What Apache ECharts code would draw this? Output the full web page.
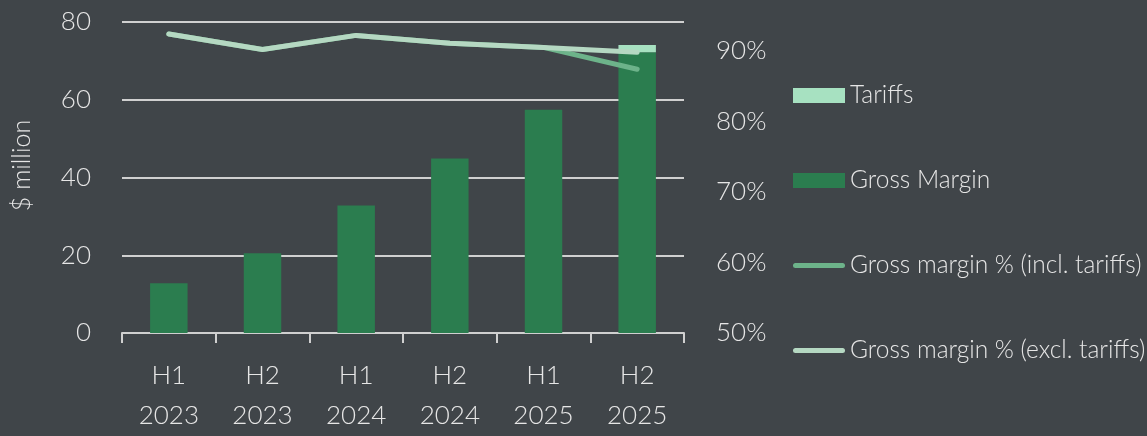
<!DOCTYPE html>
<html>
<head>
<meta charset="utf-8">
<script src="https://cdn.jsdelivr.net/npm/echarts@6/dist/echarts.min.js"></script>
<style>
html,body{margin:0;padding:0;background:#404549;}
#c{width:1147px;height:436px;}
</style>
</head>
<body>
<div id="c"></div>
<script>
const categories = ['H1\n2023','H2\n2023','H1\n2024','H2\n2024','H1\n2025','H2\n2025'];
const grossMargin = [12.8, 20.5, 32.8, 44.9, 57.4, 72.2];
const tariffs = [0, 0, 0, 0, 0, 1.9];
const gmInclTariffs = [0.924, 0.902, 0.922, 0.911, 0.905, 0.874];
const gmExclTariffs = [0.924, 0.902, 0.922, 0.911, 0.905, 0.898];
const leftTicks = [0, 20, 40, 60, 80];
const rightTicks = ['50%','60%','70%','80%','90%'];

const TXT = '#e6e6e6';
const FONT = 'Lato, "Open Sans", sans-serif';
const W = 300;
const lineIcon = 'path://M2.5,0 H49.5 A2.5,2.5 0 0 1 49.5,5 H2.5 A2.5,2.5 0 0 1 2.5,0 Z';
const chart = echarts.init(document.getElementById('c'), null, {renderer:'canvas'});
chart.setOption({
  backgroundColor: '#404549',
  animation: false,
  textStyle: {fontFamily: FONT, color: TXT, fontWeight: W},
  grid: {left: 122, right: 463, top: 22, bottom: 102},
  legend: {
    orient: 'vertical',
    left: 793, top: 83,
    padding: 0,
    itemWidth: 52, itemHeight: 15,
    itemGap: 60,
    textStyle: {color: TXT, fontSize: 24.5, fontFamily: FONT, fontWeight: W, lineHeight: 24, padding: [0,0,0,0]},
    data: [
      {name: 'Tariffs', icon: 'rect'},
      {name: 'Gross Margin', icon: 'rect'},
      {name: 'Gross margin % (incl. tariffs)', icon: lineIcon},
      {name: 'Gross margin % (excl. tariffs)', icon: lineIcon}
    ]
  },
  xAxis: {
    type: 'category',
    data: categories,
    axisLine: {lineStyle: {color: '#d0d0d0', width: 2}},
    axisTick: {show: true, length: 10, lineStyle: {color: '#d0d0d0', width: 2}},
    axisLabel: {color: TXT, fontSize: 26, fontWeight: W, lineHeight: 40, margin: 23, fontFamily: FONT}
  },
  yAxis: [
    {
      type: 'value', min: 0, max: 80, interval: 20,
      name: '$ million', nameLocation: 'middle', nameRotate: 90, nameGap: 88,
      nameTextStyle: {color: TXT, fontSize: 25, fontWeight: W, fontFamily: FONT, padding: [0,0,0,24]},
      axisLine: {show: false}, axisTick: {show: false},
      axisLabel: {color: TXT, fontSize: 26, fontWeight: W, margin: 31, fontFamily: FONT,
        formatter: v => leftTicks.includes(v) ? String(v) : ''},
      splitLine: {lineStyle: {color: '#d0d0d0', width: 2}}
    },
    {
      type: 'value', min: 0.5, max: 0.941, interval: 0.1,
      position: 'right',
      axisLine: {show: false}, axisTick: {show: false},
      splitLine: {show: false},
      axisLabel: {color: TXT, fontSize: 26, fontWeight: W, margin: 32, fontFamily: FONT, showMaxLabel: false,
        formatter: v => {
          const p = Math.round(v*100);
          const s = p + '%';
          return (p % 10 === 0 && rightTicks.includes(s)) ? s : '';
        }}
    }
  ],
  series: [
    {name: 'Gross Margin', type: 'bar', stack: 'gm', data: grossMargin, barWidth: '40%',
      itemStyle: {color: '#2b7d4f'}},
    {name: 'Tariffs', type: 'bar', stack: 'gm', data: tariffs, barWidth: '40%',
      itemStyle: {color: '#a7e1c1'}},
    {name: 'Gross margin % (incl. tariffs)', type: 'line', yAxisIndex: 1, data: gmInclTariffs,
      symbol: 'none', lineStyle: {color: '#6db38a', width: 5, cap: 'round', join: 'round'},
      itemStyle: {color: '#6db38a'}},
    {name: 'Gross margin % (excl. tariffs)', type: 'line', yAxisIndex: 1, data: gmExclTariffs,
      symbol: 'none', lineStyle: {color: '#b5d8c2', width: 5, cap: 'round', join: 'round'},
      itemStyle: {color: '#b5d8c2'}}
  ]
});
</script>
</body>
</html>
